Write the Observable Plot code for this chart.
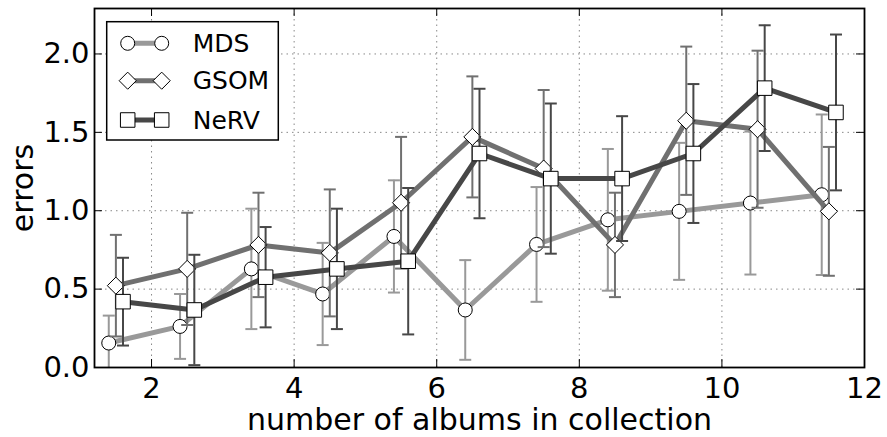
<!DOCTYPE html>
<html><head><meta charset="utf-8">
<script src="https://cdn.jsdelivr.net/npm/d3@7"></script>
<script src="https://cdn.jsdelivr.net/npm/@observablehq/plot@0.6"></script>
<style>body{margin:0;background:#fff}svg{font-family:"DejaVu Sans",sans-serif}</style>
</head><body><div id="chart"></div>
<script>
// ---- data ----
const albums = [1.5, 2.5, 3.5, 4.5, 5.5, 6.5, 7.5, 8.5, 9.5, 10.5, 11.5];
const seriesNames = ["MDS", "GSOM", "NeRV"];
const mdsMean  = [0.156, 0.262, 0.629, 0.469, 0.836, 0.367, 0.785, 0.942, 0.996, 1.049, 1.102];
const mdsErr   = [0.175, 0.207, 0.384, 0.326, 0.358, 0.318, 0.366, 0.452, 0.437, 0.456, 0.512];
const gsomMean = [0.522, 0.629, 0.782, 0.731, 1.051, 1.471, 1.269, 0.782, 1.574, 1.520, 0.996];
const gsomErr  = [0.324, 0.358, 0.333, 0.405, 0.420, 0.386, 0.501, 0.333, 0.473, 0.501, 0.411];
const nervMean = [0.420, 0.367, 0.576, 0.629, 0.678, 1.365, 1.205, 1.205, 1.365, 1.782, 1.627];
const nervErr  = [0.280, 0.352, 0.320, 0.384, 0.467, 0.413, 0.479, 0.398, 0.443, 0.401, 0.497];
const xTicks = [2, 4, 6, 8, 10, 12];
const yTicks = [0, 0.5, 1.0, 1.5, 2.0];

// ---- styling ----
const means = [mdsMean, gsomMean, nervMean];
const errs = [mdsErr, gsomErr, nervErr];
const offsets = [-0.1, 0, 0.1];
const colors = ["#999999", "#707070", "#474747"];
const symbols = ["circle", "diamond2", "square"];
const radii = [7, 7.7, 8.2];

const W = 887, H = 437, mL = 94, mR = 23, mT = 8, mB = 70;
const innerW = W - mL - mR, innerH = H - mT - mB;

const capSymbol = {draw(ctx, size) { const r = Math.sqrt(size / Math.PI); ctx.moveTo(-r, 0); ctx.lineTo(r, 0); }};

const seriesRows = seriesNames.map((name, s) => albums.map((a, i) => ({
  series: name, x: a + offsets[s], y: means[s][i],
  lo: means[s][i] - errs[s][i], hi: means[s][i] + errs[s][i]
})));

const marks = [
  Plot.ruleX(xTicks.slice(0, -1), {x: d => d, stroke: "#888", strokeWidth: 1, strokeDasharray: "1.5,4"}),
  Plot.ruleY(yTicks.slice(1), {y: d => d, stroke: "#888", strokeWidth: 1, strokeDasharray: "1.5,4"}),
  Plot.tickX(xTicks, {x: d => d, insetTop: innerH - 8, stroke: "black"}),
  Plot.tickX(xTicks, {x: d => d, insetBottom: innerH - 8, stroke: "black"}),
  Plot.tickY(yTicks, {y: d => d, insetRight: innerW - 8, stroke: "black"}),
  Plot.tickY(yTicks, {y: d => d, insetLeft: innerW - 8, stroke: "black"}),
];
seriesRows.forEach((rows, s) => {
  marks.push(
    Plot.ruleX(rows, {x: "x", y1: "lo", y2: "hi", stroke: colors[s], strokeWidth: 2, clip: true}),
    Plot.dot(rows, {x: "x", y: "lo", symbol: capSymbol, r: 6, stroke: colors[s], strokeWidth: 2, fill: "none", clip: true}),
    Plot.dot(rows, {x: "x", y: "hi", symbol: capSymbol, r: 6, stroke: colors[s], strokeWidth: 2, fill: "none", clip: true}),
    Plot.line(rows, {x: "x", y: "y", stroke: colors[s], strokeWidth: 5}),
    Plot.dot(rows, {x: "x", y: "y", symbol: symbols[s], r: radii[s], fill: "white", stroke: "black", strokeWidth: 1})
  );
});
marks.push(
  Plot.frame({stroke: "black", strokeWidth: 1.8}),
  Plot.text(["number of albums in collection"], {frameAnchor: "bottom", dy: 53, fontSize: 30, lineAnchor: "middle", fill: "black"}),
  Plot.text(["errors"], {frameAnchor: "left", dx: -71, rotate: -90, fontSize: 30, lineAnchor: "middle", textAnchor: "middle", fill: "black"})
);

const chart = Plot.plot({
  width: W, height: H,
  marginLeft: mL, marginRight: mR, marginTop: mT, marginBottom: mB,
  style: {fontFamily: "DejaVu Sans", fontSize: "29px", background: "white", color: "black"},
  x: {domain: [1.2, 12], ticks: xTicks, tickFormat: d => String(d), tickSize: 0, tickPadding: 10, label: null},
  y: {domain: [0, 2.29], ticks: yTicks, tickFormat: d3.format(".1f"), tickSize: 0, tickPadding: 5, label: null},
  marks
});
document.getElementById("chart").appendChild(chart);

// ---- legend ----
const svg = d3.select(chart);
const lg = svg.append("g").attr("font-family", "DejaVu Sans").attr("text-anchor", "start");
lg.append("rect").attr("x", 106.7).attr("y", 21.7).attr("width", 171.6).attr("height", 118.3)
  .attr("fill", "white").attr("stroke", "black").attr("stroke-width", 1.5);
const rowY = [43.3, 80.7, 120];
seriesNames.forEach((name, s) => {
  const y = rowY[s];
  lg.append("line").attr("x1", 127.7).attr("x2", 161.7).attr("y1", y).attr("y2", y)
    .attr("stroke", colors[s]).attr("stroke-width", 5);
  const sym = d3.symbol(s === 0 ? d3.symbolCircle : s === 1 ? d3.symbolDiamond2 : d3.symbolSquare, Math.PI * radii[s] * radii[s]);
  [127.7, 161.7].forEach(x => {
    lg.append("path").attr("d", sym()).attr("transform", `translate(${x},${y})`)
      .attr("fill", "white").attr("stroke", "black").attr("stroke-width", 1);
  });
  lg.append("text").attr("x", 192.7).attr("y", y).attr("dy", "0.35em").attr("font-size", 25)
    .attr("text-anchor", "start").attr("fill", "black").text(name);
});
</script></body></html>
